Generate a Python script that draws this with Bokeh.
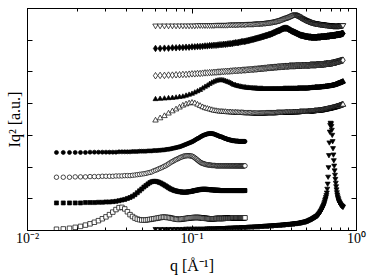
import numpy as np
from bokeh.plotting import figure
from bokeh.models import FixedTicker, LogAxis, LinearAxis, CustomJSTickFormatter
from bokeh.embed import file_html
from bokeh.resources import INLINE

# measurement grids (linear in q)
q_low = np.round(0.015 + 0.0015 * np.arange(131), 4)
q_high = np.round(0.06 + 0.004 * np.arange(193), 4)

# lower group (q = 0.015 ... 0.21)
filled_circles = [
    2.46,2.46,2.46,2.46,2.46,2.46,2.47,2.47,2.47,2.47,
    2.47,2.47,2.47,2.47,2.48,2.48,2.48,2.48,2.48,2.49,
    2.49,2.49,2.50,2.50,2.50,2.50,2.51,2.51,2.51,2.52,
    2.52,2.52,2.53,2.53,2.54,2.54,2.55,2.56,2.56,2.57,
    2.58,2.59,2.60,2.61,2.62,2.63,2.64,2.65,2.67,2.68,
    2.70,2.71,2.73,2.74,2.76,2.77,2.79,2.80,2.82,2.84,
    2.86,2.88,2.90,2.91,2.93,2.95,2.97,2.98,3.00,3.01,
    3.02,3.03,3.04,3.05,3.05,3.06,3.06,3.06,3.06,3.05,
    3.05,3.04,3.03,3.02,3.01,3.00,2.99,2.98,2.97,2.96,
    2.96,2.95,2.94,2.93,2.92,2.91,2.90,2.90,2.89,2.88,
    2.87,2.87,2.86,2.86,2.85,2.85,2.84,2.84,2.83,2.83,
    2.83,2.83,2.82,2.82,2.82,2.82,2.82,2.82,2.81,2.81,
    2.81,2.81,2.81,2.81,2.81,2.81,2.81,2.81,2.81,2.81,2.81]
open_circles = [
    1.68,1.68,1.68,1.69,1.69,1.69,1.70,1.70,1.70,1.71,
    1.71,1.71,1.71,1.72,1.72,1.72,1.73,1.73,1.73,1.74,
    1.75,1.76,1.77,1.78,1.79,1.80,1.82,1.83,1.85,1.88,
    1.90,1.92,1.95,1.97,1.99,2.02,2.04,2.07,2.10,2.13,
    2.16,2.18,2.21,2.23,2.25,2.27,2.29,2.31,2.32,2.34,
    2.35,2.35,2.36,2.36,2.36,2.35,2.35,2.34,2.32,2.30,
    2.27,2.25,2.22,2.20,2.17,2.15,2.13,2.12,2.11,2.10,
    2.09,2.08,2.08,2.07,2.07,2.06,2.06,2.06,2.05,2.05,
    2.05,2.05,2.05,2.04,2.04,2.04,2.04,2.04,2.04,2.04,
    2.04,2.04,2.04,2.04,2.04,2.04,2.04,2.04,2.04,2.04,
    2.04,2.04,2.04,2.04,2.04,2.04,2.04,2.04,2.04,2.04,
    2.04,2.04,2.04,2.04,2.04,2.04,2.04,2.04,2.04,2.04,
    2.04,2.04,2.04,2.04,2.04,2.04,2.04,2.04,2.04,2.04,2.04]
filled_squares = [
    0.87,0.87,0.87,0.87,0.87,0.88,0.88,0.88,0.89,0.89,
    0.90,0.90,0.91,0.92,0.94,0.96,0.98,1.01,1.04,1.08,
    1.13,1.19,1.25,1.31,1.37,1.42,1.47,1.51,1.54,1.55,
    1.55,1.54,1.52,1.50,1.47,1.44,1.41,1.38,1.35,1.32,
    1.30,1.28,1.26,1.25,1.24,1.23,1.22,1.22,1.21,1.21,
    1.21,1.21,1.21,1.22,1.22,1.23,1.23,1.24,1.25,1.26,
    1.26,1.27,1.28,1.28,1.29,1.29,1.30,1.30,1.30,1.30,
    1.30,1.30,1.30,1.29,1.29,1.29,1.29,1.28,1.28,1.28,
    1.28,1.28,1.27,1.27,1.27,1.27,1.27,1.27,1.26,1.26,
    1.26,1.26,1.26,1.26,1.26,1.26,1.26,1.26,1.26,1.26,
    1.26,1.26,1.26,1.26,1.26,1.26,1.26,1.26,1.26,1.26,
    1.26,1.26,1.26,1.26,1.26,1.26,1.26,1.26,1.26,1.26,
    1.26,1.26,1.26,1.26,1.26,1.26,1.26,1.26,1.26,1.26,1.26]
open_squares = [
    0.04,0.05,0.07,0.10,0.13,0.17,0.21,0.26,0.31,0.37,
    0.43,0.50,0.58,0.66,0.72,0.73,0.68,0.59,0.50,0.44,
    0.39,0.36,0.34,0.33,0.33,0.33,0.34,0.35,0.36,0.37,
    0.38,0.39,0.40,0.41,0.42,0.42,0.42,0.41,0.41,0.40,
    0.39,0.38,0.37,0.36,0.36,0.35,0.35,0.36,0.36,0.37,
    0.37,0.38,0.38,0.39,0.39,0.40,0.40,0.40,0.41,0.41,
    0.41,0.41,0.41,0.41,0.41,0.40,0.40,0.40,0.39,0.39,
    0.39,0.38,0.38,0.38,0.37,0.37,0.37,0.37,0.37,0.37,
    0.37,0.37,0.37,0.38,0.38,0.38,0.38,0.38,0.38,0.38,
    0.38,0.38,0.38,0.38,0.38,0.39,0.39,0.39,0.39,0.39,
    0.39,0.39,0.39,0.39,0.39,0.39,0.39,0.40,0.40,0.40,
    0.40,0.40,0.40,0.40,0.40,0.40,0.40,0.40,0.40,0.40,
    0.40,0.40,0.40,0.40,0.40,0.40,0.40,0.40,0.40,0.40,0.40]

# upper group (q = 0.06 ... 0.828)
filled_down_triangles = [
    0.05,0.05,0.05,0.05,0.05,0.05,0.05,0.05,0.06,0.06,
    0.06,0.06,0.06,0.06,0.06,0.06,0.07,0.07,0.07,0.07,
    0.07,0.08,0.08,0.08,0.08,0.08,0.09,0.09,0.09,0.09,
    0.10,0.10,0.10,0.10,0.10,0.11,0.11,0.11,0.11,0.11,
    0.12,0.12,0.12,0.12,0.12,0.13,0.13,0.13,0.13,0.13,
    0.14,0.14,0.14,0.14,0.15,0.15,0.15,0.15,0.15,0.16,
    0.16,0.16,0.16,0.16,0.17,0.17,0.17,0.17,0.17,0.18,
    0.18,0.18,0.18,0.18,0.19,0.19,0.19,0.19,0.20,0.20,
    0.20,0.20,0.20,0.21,0.21,0.21,0.21,0.22,0.22,0.22,
    0.22,0.23,0.23,0.23,0.23,0.24,0.24,0.24,0.25,0.25,
    0.25,0.26,0.26,0.27,0.27,0.28,0.28,0.28,0.29,0.29,
    0.30,0.31,0.31,0.32,0.33,0.34,0.35,0.35,0.36,0.37,
    0.38,0.39,0.40,0.41,0.42,0.43,0.44,0.45,0.46,0.47,
    0.48,0.50,0.52,0.54,0.56,0.58,0.61,0.63,0.66,0.69,
    0.72,0.75,0.78,0.82,0.86,0.91,0.96,1.01,1.06,1.12,
    1.20,1.32,1.48,1.70,2.00,2.38,2.78,3.12,3.33,3.40,
    3.38,3.30,3.18,3.02,2.82,2.60,2.40,2.22,2.05,1.90,
    1.76,1.63,1.51,1.40,1.30,1.21,1.14,1.08,1.03,0.99,
    0.95,0.92,0.89,0.87,0.85,0.83,0.81,0.80,0.79,0.78,
    0.77,0.76,0.75]
open_down_triangles = [
    6.46,6.46,6.46,6.46,6.46,6.46,6.46,6.46,6.46,6.46,
    6.46,6.46,6.47,6.47,6.47,6.47,6.47,6.47,6.47,6.47,
    6.48,6.48,6.48,6.48,6.48,6.48,6.48,6.49,6.49,6.49,
    6.49,6.49,6.49,6.50,6.50,6.50,6.50,6.50,6.50,6.51,
    6.51,6.51,6.51,6.51,6.51,6.52,6.52,6.52,6.52,6.52,
    6.53,6.53,6.53,6.54,6.54,6.54,6.55,6.55,6.55,6.56,
    6.56,6.57,6.57,6.58,6.58,6.59,6.59,6.60,6.61,6.62,
    6.62,6.63,6.64,6.65,6.66,6.67,6.68,6.69,6.70,6.71,
    6.71,6.72,6.73,6.74,6.75,6.76,6.77,6.78,6.79,6.80,
    6.81,6.81,6.80,6.79,6.78,6.77,6.76,6.75,6.74,6.72,
    6.71,6.70,6.69,6.68,6.67,6.66,6.65,6.64,6.63,6.62,
    6.62,6.61,6.60,6.59,6.59,6.58,6.57,6.57,6.56,6.56,
    6.55,6.55,6.54,6.54,6.54,6.53,6.53,6.53,6.52,6.52,
    6.52,6.52,6.51,6.51,6.51,6.51,6.50,6.50,6.50,6.50,
    6.50,6.49,6.49,6.49,6.49,6.49,6.48,6.48,6.48,6.48,
    6.48,6.48,6.47,6.47,6.47,6.47,6.47,6.46,6.46,6.46,
    6.46,6.46,6.46,6.46,6.46,6.45,6.45,6.45,6.45,6.45,
    6.45,6.45,6.45,6.45,6.45,6.45,6.45,6.45,6.45,6.45,
    6.45,6.45,6.46,6.46,6.46,6.46,6.46,6.46,6.46,6.47,
    6.47,6.47,6.47]
filled_diamonds = [
    5.74,5.74,5.75,5.75,5.76,5.76,5.77,5.77,5.78,5.78,
    5.79,5.79,5.80,5.80,5.81,5.82,5.82,5.83,5.83,5.84,
    5.84,5.85,5.86,5.86,5.87,5.87,5.88,5.89,5.89,5.90,
    5.91,5.92,5.92,5.93,5.94,5.95,5.96,5.96,5.97,5.98,
    5.99,6.00,6.01,6.02,6.03,6.04,6.05,6.06,6.07,6.08,
    6.09,6.10,6.11,6.12,6.13,6.14,6.15,6.16,6.17,6.18,
    6.19,6.20,6.21,6.23,6.24,6.25,6.27,6.28,6.29,6.30,
    6.31,6.32,6.34,6.35,6.36,6.37,6.38,6.38,6.38,6.38,
    6.37,6.36,6.34,6.33,6.32,6.30,6.29,6.28,6.27,6.26,
    6.25,6.24,6.23,6.22,6.21,6.20,6.19,6.18,6.17,6.16,
    6.16,6.15,6.15,6.14,6.14,6.13,6.13,6.12,6.12,6.12,
    6.11,6.11,6.11,6.10,6.10,6.10,6.10,6.10,6.09,6.09,
    6.09,6.09,6.09,6.09,6.09,6.09,6.09,6.09,6.09,6.09,
    6.10,6.10,6.10,6.10,6.10,6.10,6.10,6.11,6.11,6.11,
    6.11,6.11,6.11,6.11,6.12,6.12,6.12,6.12,6.12,6.12,
    6.12,6.13,6.13,6.13,6.13,6.13,6.13,6.14,6.14,6.14,
    6.14,6.14,6.14,6.15,6.15,6.15,6.15,6.15,6.15,6.16,
    6.16,6.16,6.16,6.17,6.17,6.17,6.17,6.17,6.18,6.18,
    6.18,6.18,6.18,6.19,6.19,6.19,6.19,6.20,6.20,6.20,
    6.21,6.21,6.21]
open_diamonds = [
    4.88,4.89,4.89,4.90,4.90,4.91,4.91,4.92,4.92,4.93,
    4.94,4.94,4.95,4.95,4.96,4.97,4.97,4.98,4.98,4.99,
    4.99,5.00,5.00,5.01,5.01,5.02,5.02,5.02,5.03,5.03,
    5.04,5.04,5.04,5.05,5.05,5.05,5.06,5.06,5.06,5.07,
    5.07,5.07,5.08,5.08,5.08,5.09,5.09,5.09,5.10,5.10,
    5.10,5.11,5.11,5.11,5.12,5.12,5.12,5.13,5.13,5.13,
    5.14,5.14,5.14,5.14,5.15,5.15,5.15,5.15,5.16,5.16,
    5.16,5.16,5.17,5.17,5.17,5.17,5.17,5.18,5.18,5.18,
    5.18,5.18,5.18,5.19,5.19,5.19,5.19,5.19,5.19,5.19,
    5.19,5.19,5.20,5.20,5.20,5.20,5.20,5.20,5.20,5.20,
    5.20,5.20,5.21,5.21,5.21,5.21,5.21,5.21,5.21,5.21,
    5.21,5.21,5.21,5.21,5.21,5.21,5.22,5.22,5.22,5.22,
    5.22,5.22,5.22,5.22,5.22,5.22,5.22,5.22,5.23,5.23,
    5.23,5.23,5.23,5.23,5.23,5.23,5.23,5.24,5.24,5.24,
    5.24,5.24,5.24,5.24,5.25,5.25,5.25,5.25,5.25,5.26,
    5.26,5.26,5.26,5.26,5.26,5.27,5.27,5.27,5.27,5.27,
    5.27,5.28,5.28,5.28,5.28,5.29,5.29,5.29,5.29,5.30,
    5.30,5.30,5.31,5.31,5.31,5.32,5.32,5.32,5.33,5.33,
    5.33,5.34,5.34,5.34,5.35,5.35,5.35,5.36,5.36,5.36,
    5.37,5.37,5.37]
filled_up_triangles = [
    4.14,4.15,4.16,4.17,4.18,4.19,4.21,4.22,4.25,4.28,
    4.31,4.35,4.39,4.43,4.48,4.53,4.57,4.62,4.66,4.69,
    4.72,4.73,4.74,4.74,4.73,4.71,4.69,4.67,4.65,4.62,
    4.59,4.58,4.56,4.55,4.54,4.53,4.52,4.51,4.51,4.50,
    4.50,4.49,4.49,4.49,4.48,4.48,4.48,4.48,4.47,4.47,
    4.47,4.47,4.47,4.46,4.46,4.46,4.46,4.46,4.46,4.46,
    4.46,4.46,4.46,4.46,4.46,4.46,4.46,4.46,4.46,4.46,
    4.46,4.46,4.46,4.46,4.46,4.47,4.47,4.47,4.47,4.47,
    4.47,4.47,4.47,4.47,4.47,4.47,4.47,4.47,4.47,4.47,
    4.47,4.47,4.47,4.47,4.47,4.48,4.48,4.48,4.48,4.48,
    4.48,4.48,4.48,4.48,4.48,4.48,4.48,4.48,4.48,4.48,
    4.48,4.48,4.48,4.49,4.49,4.49,4.49,4.49,4.49,4.50,
    4.50,4.50,4.50,4.50,4.50,4.51,4.51,4.51,4.51,4.51,
    4.51,4.51,4.51,4.51,4.51,4.52,4.52,4.52,4.52,4.52,
    4.52,4.52,4.53,4.53,4.53,4.53,4.53,4.54,4.54,4.54,
    4.54,4.54,4.55,4.55,4.55,4.55,4.55,4.56,4.56,4.56,
    4.56,4.56,4.57,4.57,4.57,4.58,4.58,4.58,4.59,4.59,
    4.59,4.60,4.60,4.61,4.61,4.62,4.62,4.63,4.63,4.64,
    4.64,4.64,4.65,4.65,4.66,4.66,4.67,4.67,4.68,4.68,
    4.69,4.69,4.70]
open_up_triangles = [
    3.47,3.54,3.61,3.69,3.76,3.82,3.88,3.94,3.98,4.01,
    4.03,4.01,3.97,3.93,3.89,3.86,3.84,3.82,3.80,3.78,
    3.77,3.76,3.75,3.75,3.74,3.74,3.73,3.73,3.73,3.72,
    3.72,3.72,3.72,3.71,3.71,3.71,3.71,3.70,3.70,3.70,
    3.70,3.70,3.70,3.69,3.69,3.69,3.69,3.69,3.69,3.69,
    3.69,3.69,3.69,3.69,3.69,3.69,3.70,3.70,3.70,3.70,
    3.70,3.70,3.70,3.70,3.70,3.70,3.70,3.71,3.71,3.71,
    3.71,3.71,3.71,3.71,3.71,3.71,3.71,3.72,3.72,3.72,
    3.72,3.72,3.72,3.72,3.72,3.72,3.72,3.72,3.73,3.73,
    3.73,3.73,3.73,3.73,3.73,3.73,3.73,3.73,3.74,3.74,
    3.74,3.74,3.74,3.74,3.74,3.74,3.74,3.74,3.74,3.74,
    3.74,3.74,3.75,3.75,3.75,3.75,3.75,3.75,3.76,3.76,
    3.76,3.76,3.76,3.76,3.77,3.77,3.77,3.77,3.77,3.77,
    3.77,3.78,3.78,3.78,3.78,3.78,3.79,3.79,3.79,3.79,
    3.79,3.80,3.80,3.80,3.81,3.81,3.81,3.82,3.82,3.82,
    3.82,3.83,3.83,3.83,3.84,3.84,3.84,3.84,3.85,3.85,
    3.85,3.86,3.86,3.86,3.87,3.87,3.87,3.88,3.88,3.88,
    3.89,3.89,3.89,3.90,3.90,3.91,3.91,3.91,3.92,3.92,
    3.92,3.93,3.93,3.94,3.94,3.94,3.95,3.95,3.96,3.96,
    3.96,3.97,3.97]

x_major_ticks = [0.01, 0.1, 1.0]
x_minor_ticks = [0.02, 0.03, 0.04, 0.05, 0.06, 0.07, 0.08, 0.09,
                 0.2, 0.3, 0.4, 0.5, 0.6, 0.7, 0.8, 0.9]
y_ticks = [0, 1, 2, 3, 4, 5, 6, 7]

SERIF = "Liberation Serif"

p = figure(width=374, height=280, x_axis_type="log", x_range=(0.01, 1.0), y_range=(0, 7),
           output_backend="svg", toolbar_location=None,
           min_border_left=27, min_border_right=18, min_border_top=8, min_border_bottom=50)
p.grid.visible = False
p.outline_line_color = "black"
p.background_fill_color = "white"
p.border_fill_color = "white"

sup_fmt = CustomJSTickFormatter(code="""
const e = Math.round(Math.log10(tick));
const m = {'-':'\u207b','0':'\u2070','1':'\u00b9','2':'\u00b2','3':'\u00b3'};
return '10' + String(e).split('').map(c => m[c]).join('');
""")
blank_fmt = CustomJSTickFormatter(code="return '';")

def style_x(ax, labels):
    ax.ticker = FixedTicker(ticks=x_major_ticks, minor_ticks=x_minor_ticks)
    ax.major_tick_in = 5
    ax.major_tick_out = 0
    ax.minor_tick_in = 3
    ax.minor_tick_out = 0
    ax.axis_line_color = "black"
    ax.major_tick_line_color = "black"
    ax.minor_tick_line_color = "black"
    if labels:
        ax.formatter = sup_fmt
        ax.major_label_text_font = SERIF
        ax.major_label_text_font_size = "14px"
        ax.major_label_text_color = "black"
        ax.major_label_standoff = 0
    else:
        ax.formatter = blank_fmt
        ax.major_label_standoff = 0

def style_y(ax):
    ax.ticker = FixedTicker(ticks=y_ticks, minor_ticks=[])
    ax.major_tick_in = 5
    ax.major_tick_out = 0
    ax.minor_tick_in = 0
    ax.minor_tick_out = 0
    ax.axis_line_color = "black"
    ax.major_tick_line_color = "black"
    ax.formatter = blank_fmt
    ax.major_label_standoff = 0

xb = p.xaxis[0]
style_x(xb, True)
xb.axis_label = "q [Å\u207b\u00b9]"
xb.axis_label_text_font = SERIF
xb.axis_label_text_font_style = "normal"
xb.axis_label_text_font_size = "16px"
xb.axis_label_text_color = "black"
xb.axis_label_standoff = 8

yl = p.yaxis[0]
style_y(yl)
yl.axis_label = "Iq\u00b2 [a.u.]"
yl.axis_label_text_font = SERIF
yl.axis_label_text_font_style = "normal"
yl.axis_label_text_font_size = "16px"
yl.axis_label_text_color = "black"
yl.axis_label_standoff = 5

xt = LogAxis()
style_x(xt, False)
p.add_layout(xt, "above")
yr = LinearAxis()
style_y(yr)
p.add_layout(yr, "right")

def draw(x, y, marker, size, fill):
    p.scatter(x=list(x), y=y, marker=marker, size=size, fill_color=fill,
              line_color="black", line_width=0.7)

draw(q_low, open_squares, "square", 4.5, "white")
draw(q_low, filled_squares, "square", 4.0, "black")
draw(q_low, open_circles, "circle", 4.5, "white")
draw(q_low, filled_circles, "circle", 4.0, "black")
draw(q_high, filled_down_triangles, "inverted_triangle", 5.0, "black")
draw(q_high, open_up_triangles, "triangle", 5.5, "white")
draw(q_high, filled_up_triangles, "triangle", 5.0, "black")
draw(q_high, open_diamonds, "diamond", 6.5, "white")
draw(q_high, filled_diamonds, "diamond", 6.5, "black")
draw(q_high, open_down_triangles, "inverted_triangle", 5.5, "white")

open("out.html", "w").write(file_html(p, INLINE))
